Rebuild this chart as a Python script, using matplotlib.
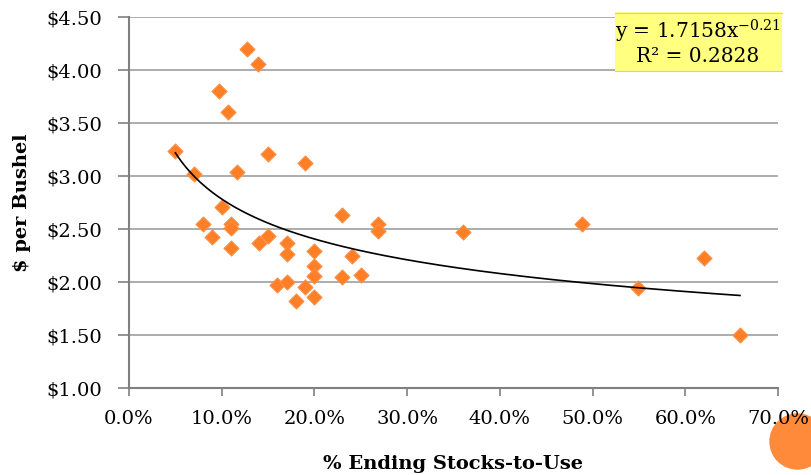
import numpy as np
import matplotlib
matplotlib.use("Agg")
import matplotlib.pyplot as plt
from matplotlib.patches import Ellipse, Rectangle
from matplotlib.ticker import FuncFormatter

plt.rcParams['font.family'] = ['DejaVu Serif']
plt.rcParams['mathtext.fontset'] = 'dejavuserif'

# stocks-to-use (fraction) and price ($ per bushel)
stocks = [0.050, 0.070, 0.080, 0.090, 0.097, 0.100, 0.107, 0.110, 0.110, 0.110,
          0.116, 0.127, 0.139, 0.140, 0.150, 0.150, 0.160, 0.170, 0.170, 0.170,
          0.180, 0.190, 0.190, 0.200, 0.200, 0.200, 0.200, 0.230, 0.230, 0.240,
          0.250, 0.269, 0.269, 0.360, 0.489, 0.549, 0.620, 0.659]
price = [3.24, 3.02, 2.55, 2.42, 3.80, 2.71, 3.60, 2.55, 2.51, 2.32,
         3.04, 4.20, 4.06, 2.37, 3.21, 2.43, 1.97, 2.37, 2.26, 2.00,
         1.82, 3.12, 1.95, 2.29, 2.15, 2.06, 1.86, 2.63, 2.05, 2.25,
         2.07, 2.55, 2.48, 2.47, 2.55, 1.94, 2.23, 1.50]

coef_a = 1.7158
coef_b = -0.21

W, H = 812, 475
fig = plt.figure(figsize=(W / 100, H / 100), dpi=100)
ax = fig.add_axes([129 / W, 1 - 388 / H, 649 / W, 371 / H])

ax.set_xlim(0, 0.70)
ax.set_ylim(1.0, 4.5)
ax.set_xticks(np.arange(0, 0.71, 0.1))
ax.set_yticks(np.arange(1.0, 4.51, 0.5))
ax.xaxis.set_major_formatter(FuncFormatter(lambda v, p: f"{v*100:.1f}%"))
ax.yaxis.set_major_formatter(FuncFormatter(lambda v, p: f"${v:.2f}"))

ax.grid(axis='y', color='#a6a6a6', lw=1.3, zorder=0)
ax.set_axisbelow(True)
for s in ['top', 'right']:
    ax.spines[s].set_visible(False)
for s in ['left', 'bottom']:
    ax.spines[s].set_color('#808080')
    ax.spines[s].set_linewidth(1.5)
ax.tick_params(axis='y', length=8, width=1.2, color='#808080', pad=11, labelsize=14)
ax.tick_params(axis='x', length=6, width=1.2, color='#808080', pad=10, labelsize=14)

ax.scatter(stocks, price, marker='D', s=58, color='#ff7f27',
           edgecolors='#fb8f45', linewidths=0.8, zorder=3)

xs = np.linspace(min(stocks), max(stocks), 200)
ax.plot(xs, coef_a * xs ** coef_b, color='black', lw=1.2, zorder=4)

ax.set_xlabel('% Ending Stocks-to-Use', fontsize=14, fontweight='bold', labelpad=19)
ax.set_ylabel('$ per Bushel', fontsize=14, fontweight='bold', labelpad=11)

# equation box
fig.add_artist(Rectangle((615 / W, 1 - 72 / H), 167 / W, 60 / H, transform=fig.transFigure,
                         fc='#ffff80', ec='none', zorder=5))
for yy in (13, 71):
    fig.add_artist(plt.Line2D([615 / W, 782 / W], [1 - yy / H] * 2, transform=fig.transFigure,
                              color='#d8d090', lw=0.8, zorder=6))
fig.text(698 / W, 1 - 31 / H, r'y = 1.7158x$^{\mathrm{-0.21}}$', ha='center', va='center',
         fontsize=14.5, zorder=7)
fig.text(698 / W, 1 - 57 / H, 'R² = 0.2828', ha='center', va='center',
         fontsize=14.5, zorder=7)

fig.add_artist(Ellipse((797.5 / W, 1 - 441.5 / H), 55 / W, 55 / H,
                       transform=fig.transFigure, color='#ff8a3a', zorder=-1))

fig.savefig('out.png', dpi=100)
